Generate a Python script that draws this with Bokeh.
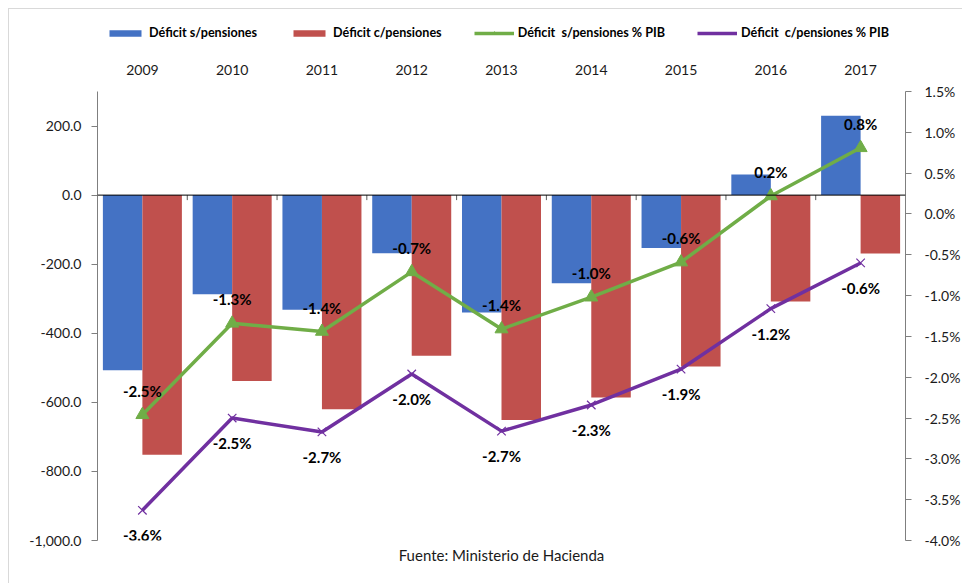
import math
from bokeh.plotting import figure
from bokeh.layouts import column
from bokeh.models import (ColumnDataSource, Range1d, LinearAxis, SingleIntervalTicker,
                          NumeralTickFormatter, PrintfTickFormatter, Legend, LegendItem,
                          Span, Title, FactorRange)
from bokeh.transform import dodge
from bokeh.core.properties import value
from bokeh.embed import file_html
from bokeh.resources import INLINE

# ---- data ----
years = ["2009", "2010", "2011", "2012", "2013", "2014", "2015", "2016", "2017"]
deficit_sin = [-507, -287, -332, -168, -340, -255, -153, 60, 230]        # Déficit s/pensiones
deficit_con = [-752, -538, -620, -465, -651, -586, -496, -308, -169]     # Déficit c/pensiones
pib_sin = [-2.46, -1.34, -1.44, -0.71, -1.41, -1.02, -0.59, 0.22, 0.81]  # % PIB
pib_con = [-3.63, -2.50, -2.67, -1.96, -2.66, -2.34, -1.90, -1.16, -0.60]
series_names = ["Déficit s/pensiones", "Déficit c/pensiones",
                "Déficit  s/pensiones % PIB", "Déficit  c/pensiones % PIB"]

label_sin = [f"{v:.1f}%" for v in pib_sin]
label_con = [f"{v:.1f}%" for v in pib_con]

BLUE = "#4472C4"
RED = "#C0504D"
GREEN = "#70AD47"
PURPLE = "#7030A0"
FONT = "Lato"
BORDER = "1px solid #d9d9d9"

src = ColumnDataSource(dict(year=years, sin=deficit_sin, con=deficit_con,
                            psin=pib_sin, pcon=pib_con,
                            lsin=label_sin, lcon=label_con))
xr = FactorRange(*years)


def draw_series(fig):
    b1 = fig.vbar(x=dodge("year", -0.22, range=xr), top="sin", width=0.44,
                  source=src, fill_color=BLUE, line_color=None)
    b2 = fig.vbar(x=dodge("year", 0.22, range=xr), top="con", width=0.44,
                  source=src, fill_color=RED, line_color=None)
    l1 = fig.line("year", "psin", source=src, y_range_name="pct", line_color=GREEN, line_width=3.5)
    m1 = fig.scatter("year", "psin", source=src, y_range_name="pct", marker="triangle",
                     size=13, fill_color=GREEN, line_color=GREEN)
    l2 = fig.line("year", "pcon", source=src, y_range_name="pct", line_color=PURPLE, line_width=3.5)
    m2 = fig.scatter("year", "pcon", source=src, y_range_name="pct", marker="x",
                     size=12, line_color=PURPLE, line_width=1.2)
    return [[b1], [b2], [l1, m1], [l2, m2]]


# ---------------- legend strip (top) ----------------
lg = figure(x_range=xr, y_range=Range1d(5000, 6000), width=954, height=48,
            min_border=0, output_backend="svg", toolbar_location=None, title=None)
lg.extra_y_ranges = {"pct": Range1d(50, 60)}   # keeps the series out of view: legend only
lg.axis.visible = False
lg.grid.visible = False
lg.outline_line_color = None
lg.margin = (8, 0, 0, 8)
lg.styles = {"border-left": BORDER, "border-top": BORDER}
lg_rends = draw_series(lg)
legend = Legend(items=[LegendItem(label=n, renderers=r) for n, r in zip(series_names, lg_rends)],
                orientation="horizontal", location=(8, 17))
legend.glyph_width = 40
legend.glyph_height = 8
legend.label_height = 8
legend.label_standoff = 4
legend.spacing = 32
legend.padding = 0
legend.margin = 0
legend.border_line_color = None
legend.background_fill_alpha = 0
legend.label_text_font = FONT
legend.label_text_font_style = "bold"
legend.label_text_font_size = "12.6px"
legend.label_text_color = "black"
lg.add_layout(legend, "center")

# ---------------- main chart ----------------
p = figure(x_range=xr, y_range=Range1d(-1000, 300),
           width=954, height=527,
           min_border_left=88, min_border_right=58, min_border_top=35, min_border_bottom=43,
           x_axis_location="above", title=None,
           output_backend="svg", toolbar_location=None)
p.margin = (0, 0, 0, 8)
p.styles = {"border-left": BORDER}
p.extra_y_ranges = {"pct": Range1d(-4.0, 1.5)}
p.outline_line_color = None
p.xgrid.visible = False
p.ygrid.visible = False

# category axis on top
xa = p.xaxis[0]
xa.axis_line_color = None
xa.major_tick_line_color = None
xa.minor_tick_line_color = None
xa.major_tick_out = 0
xa.major_tick_in = 0
xa.major_label_standoff = 17
xa.major_label_text_font = FONT
xa.major_label_text_font_size = "14px"
xa.major_label_text_color = "#1a1a1a"

# left axis
ya = p.yaxis[0]
ya.ticker = SingleIntervalTicker(interval=200, num_minor_ticks=0)
ya.formatter = NumeralTickFormatter(format="0,0.0")
ya.axis_line_color = "#7f7f7f"
ya.major_tick_line_color = "#7f7f7f"
ya.minor_tick_line_color = None
ya.major_tick_out = 6
ya.major_tick_in = 0
ya.major_label_standoff = 10
ya.major_label_text_font = FONT
ya.major_label_text_font_size = "14px"
ya.major_label_text_color = "#1a1a1a"

# right axis
ra = LinearAxis(y_range_name="pct",
                ticker=SingleIntervalTicker(interval=0.5, num_minor_ticks=0),
                formatter=PrintfTickFormatter(format="%.1f%%"))
ra.axis_line_color = "#7f7f7f"
ra.major_tick_line_color = "#7f7f7f"
ra.minor_tick_line_color = None
ra.major_tick_out = 6
ra.major_tick_in = 0
ra.major_label_standoff = 13
ra.major_label_text_font = FONT
ra.major_label_text_font_size = "14px"
ra.major_label_text_color = "#1a1a1a"
p.add_layout(ra, "right")

# zero line with category boundary ticks (drawn under the series)
p.add_layout(Span(location=0, dimension="width", line_color="black", line_width=1))
p.ray(x=dodge("year", 0.5, range=xr), y=0, length=5, length_units="screen",
      angle=-math.pi / 2, source=src, line_color="#595959", line_width=1)

draw_series(p)

# data labels
p.text("year", "psin", text="lsin", source=src, y_range_name="pct",
       text_align="center", text_baseline="middle", y_offset=-24,
       text_font=value(FONT), text_font_style="bold", text_font_size="15px",
       text_color="black")
p.text("year", "pcon", text="lcon", source=src, y_range_name="pct",
       text_align="center", text_baseline="middle", y_offset=25,
       text_font=value(FONT), text_font_style="bold", text_font_size="15px",
       text_color="black")

# source note
src_title = Title(text="Fuente: Ministerio de Hacienda", align="center",
                  text_font=FONT, text_font_size="15px", text_font_style="normal",
                  text_color="#1a1a1a", standoff=7)
p.add_layout(src_title, "below")

layout = column(lg, p, spacing=0)
open("out.html", "w").write(file_html(layout, INLINE))
